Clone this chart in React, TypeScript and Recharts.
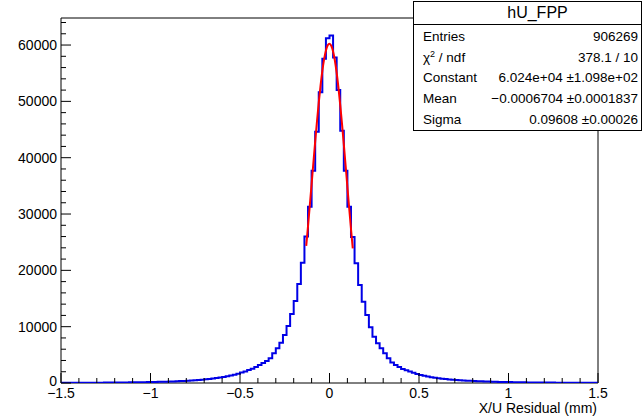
import React from 'react';
import { ComposedChart, Line, XAxis, YAxis, ReferenceArea } from 'recharts';

// histogram: 150 bins of 0.02 from -1.5 to 1.5
const BIN_LOW = -1.5;
const BIN_HIGH = 1.5;
const BIN_WIDTH = 0.02;

const COUNTS = [
  35, 37, 40, 41, 44, 46, 49, 52, 55, 58,
  62, 66, 70, 75, 80, 85, 91, 97, 104, 112,
  120, 129, 139, 150, 161, 174, 188, 203, 220, 238,
  258, 280, 305, 335, 365, 400, 440, 485, 535, 590,
  650, 720, 800, 880, 970, 1080, 1200, 1330, 1480, 1650,
  1850, 2050, 2300, 2550, 2850, 3200, 3550, 3900, 4390, 5270,
  6160, 7160, 8530, 10120, 12250, 14560, 17580, 21370,
  26000, 31300, 37700, 44600, 51600, 57550, 61200,
  61700, 57800, 52000, 44800, 37700, 31300, 25900,
  21260, 17400, 14440, 12080, 9890, 8220, 7050, 6160, 5270, 4390,
  3650, 3200, 2850, 2500, 2250, 2020, 1800, 1580, 1420, 1270,
  1140, 1030, 930, 850, 770, 700, 640, 585, 535, 490,
  450, 412, 378, 347, 320, 295, 272, 251, 232, 215,
  199, 184, 171, 159, 147, 137, 127, 118, 110, 103,
  96, 90, 84, 79, 74, 69, 65, 61, 57, 54,
  51, 48, 45, 43, 40, 38, 36, 34,
];

// gaus fit curve
const FIT_X = [
  -0.13, -0.12, -0.11, -0.1, -0.09, -0.08, -0.07, -0.06, -0.05, -0.04, -0.03, -0.02, -0.01,
  0, 0.01, 0.02, 0.03, 0.04, 0.05, 0.06, 0.07, 0.08, 0.09, 0.1, 0.11, 0.12, 0.13,
];
const FIT_Y = [
  24340, 27850, 31530, 35300, 39100, 42840, 46430, 49780, 52800, 55400, 57500, 59030, 59960,
  60240, 59870, 58860, 57250, 55080, 52420, 49350, 45960, 42350, 38590, 34790, 31030, 27380, 23890,
];

const X_TICKS = [
  -1.5, -1.4, -1.3, -1.2, -1.1, -1, -0.9, -0.8, -0.7, -0.6, -0.5, -0.4, -0.3, -0.2, -0.1,
  0, 0.1, 0.2, 0.3, 0.4, 0.5, 0.6, 0.7, 0.8, 0.9, 1, 1.1, 1.2, 1.3, 1.4, 1.5,
];
const X_MAJOR = [-1.5, -1, -0.5, 0, 0.5, 1, 1.5];
const Y_TICKS = [
  0, 2000, 4000, 6000, 8000, 10000, 12000, 14000, 16000, 18000, 20000, 22000, 24000,
  26000, 28000, 30000, 32000, 34000, 36000, 38000, 40000, 42000, 44000, 46000, 48000,
  50000, 52000, 54000, 56000, 58000, 60000, 62000, 64000,
];
const Y_MAX = 64800;

const STATS = [
  ['Entries', '906269'],
  ['chi2', '378.1 / 10'],
  ['Constant', '6.024e+04 \u00b11.098e+02'],
  ['Mean', '\u22120.0006704 \u00b10.0001837'],
  ['Sigma', '0.09608 \u00b10.00026'],
];

const FONT = '"Liberation Sans", Arial, Helvetica, sans-serif';

const histPoints = COUNTS.map((c, i) => ({ x: BIN_LOW + i * BIN_WIDTH, y: c }));
histPoints.push({ x: BIN_HIGH, y: COUNTS[COUNTS.length - 1] });
const fitPoints = FIT_X.map((x, i) => ({ x, y: FIT_Y[i] }));

const fmtX = (v: number) => (v < 0 ? '\u2212' + Math.abs(v) : String(v));

const XTick = (props: any) => {
  const { x, y, payload } = props;
  const v = payload.value;
  const major = X_MAJOR.some(m => Math.abs(m - v) < 1e-6);
  return (
    <g>
      <line x1={x} x2={x} y1={y} y2={y - (major ? 10 : 5)} stroke="#000" strokeWidth={1} />
      {major && (
        <text x={x} y={y + 15} textAnchor="middle" fontSize={14} fontFamily={FONT} fill="#000">
          {fmtX(v)}
        </text>
      )}
    </g>
  );
};

const YTick = (props: any) => {
  const { x, y, payload } = props;
  const v = payload.value;
  const major = v % 10000 === 0;
  return (
    <g>
      <line x1={x} x2={x + (major ? 10 : 5)} y1={y} y2={y} stroke="#000" strokeWidth={1} />
      {major && (
        <text x={x - 4} y={y} dy={v === 0 ? 3 : 5} textAnchor="end" fontSize={14} fontFamily={FONT} fill="#000">
          {v}
        </text>
      )}
    </g>
  );
};

export default function App() {
  return (
    <div style={{ position: 'absolute', left: 0, top: 0, width: 644, height: 419, background: '#fff', fontFamily: FONT }}>
      <ComposedChart width={644} height={419} margin={{ top: 18, right: 46, bottom: 0, left: 0 }}>
        <XAxis
          dataKey="x"
          type="number"
          domain={[BIN_LOW, BIN_HIGH]}
          ticks={X_TICKS}
          interval={0}
          tick={<XTick />}
          tickSize={0}
          tickMargin={0}
          tickLine={false}
          axisLine={false}
          height={36}
          allowDataOverflow
        />
        <YAxis
          type="number"
          domain={[0, Y_MAX]}
          ticks={Y_TICKS}
          interval={0}
          tick={<YTick />}
          tickSize={0}
          tickMargin={0}
          tickLine={false}
          axisLine={false}
          width={61}
          allowDataOverflow
        />
        <ReferenceArea x1={BIN_LOW} x2={BIN_HIGH} y1={0} y2={Y_MAX} fill="none" stroke="#000" strokeWidth={1} ifOverflow="visible" />
        <Line
          data={histPoints}
          dataKey="y"
          type="stepAfter"
          stroke="#0000e6"
          strokeWidth={2}
          dot={false}
          activeDot={false}
          isAnimationActive={false}
        />
        <Line
          data={fitPoints}
          dataKey="y"
          type="monotone"
          stroke="#ff0000"
          strokeWidth={2}
          dot={false}
          activeDot={false}
          isAnimationActive={false}
        />
      </ComposedChart>

      <div
        style={{
          position: 'absolute',
          left: 413,
          top: 1,
          width: 229,
          height: 130,
          boxSizing: 'border-box',
          border: '1px solid #000',
          background: '#fff',
          fontSize: 13.5,
          color: '#000',
        }}
      >
        <div
          style={{
            height: 22,
            borderBottom: '1px solid #000',
            textAlign: 'center',
            paddingLeft: 20,
            fontSize: 16,
            lineHeight: '22px',
          }}
        >
          hU_FPP
        </div>
        {STATS.map(([name, value], i) => (
          <div
            key={name}
            style={{
              position: 'absolute',
              left: 9,
              right: 3,
              top: 25 + i * 20.7,
              height: 20,
              lineHeight: '20px',
              display: 'flex',
              justifyContent: 'space-between',
              whiteSpace: 'nowrap',
            }}
          >
            <span>
              {name === 'chi2' ? (
                <>
                  {'\u03c7'}
                  <sup style={{ fontSize: 9, verticalAlign: 5, lineHeight: 0 }}>2</sup>
                  {' / ndf'}
                </>
              ) : (
                name
              )}
            </span>
            <span>{value}</span>
          </div>
        ))}
      </div>

      <div
        style={{
          position: 'absolute',
          right: 47,
          top: 400,
          fontSize: 14,
          lineHeight: '16px',
          whiteSpace: 'nowrap',
        }}
      >
        X/U Residual (mm)
      </div>
    </div>
  );
}
